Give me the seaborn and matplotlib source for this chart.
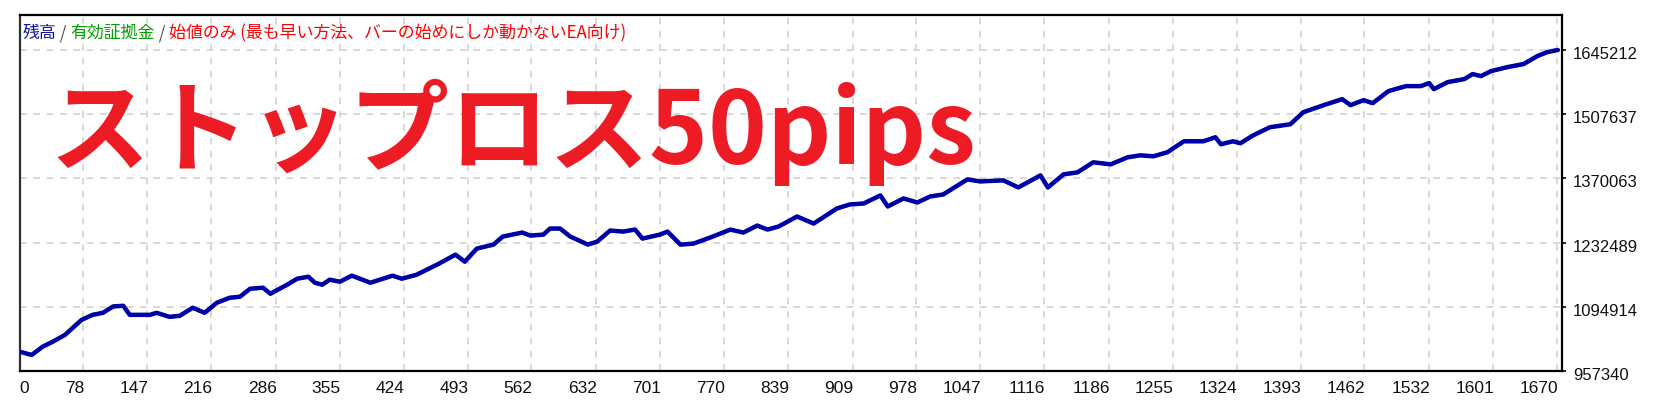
import matplotlib
matplotlib.use("Agg")
import matplotlib.pyplot as plt
import matplotlib.transforms as mtransforms
import seaborn as sns
import pandas as pd

# bar index of each sampled point on the balance curve
bars = [9, 22, 34, 45, 58, 76, 88, 99, 110, 121, 128, 150, 157, 171, 182, 196, 209,
        222, 236, 247, 258, 272, 280, 298, 309, 321, 328, 336, 344, 355, 368, 388,
        412, 422, 438, 460, 480, 490, 503, 521, 531, 552, 561, 575, 582, 593, 604,
        623, 633, 647, 661, 674, 682, 701, 709, 723, 737, 755, 777, 791, 806, 817,
        829, 849, 867, 892, 906, 921, 939, 947, 964, 979, 993, 1007, 1033, 1047,
        1072, 1088, 1112, 1120, 1137, 1152, 1169, 1188, 1206, 1220, 1234, 1249,
        1267, 1288, 1301, 1307, 1320, 1328, 1342, 1360, 1382, 1396, 1418, 1438,
        1447, 1461, 1471, 1488, 1507, 1523, 1532, 1537, 1552, 1570, 1579, 1588,
        1599, 1617, 1634, 1649, 1660, 1671]

balance = [998800, 991700, 1009600, 1020300, 1034700, 1067000, 1077700, 1082000,
           1095600, 1097100, 1077700, 1077700, 1082000, 1073400, 1075600, 1092800,
           1082000, 1103500, 1114300, 1116400, 1133600, 1135800, 1122900, 1142200,
           1155100, 1159400, 1146500, 1142200, 1153000, 1148700, 1161600, 1146500,
           1161600, 1155100, 1163700, 1185200, 1206700, 1191600, 1219600, 1228200,
           1245400, 1254000, 1247500, 1249700, 1262600, 1262600, 1245400, 1228200,
           1234600, 1258300, 1256100, 1260400, 1241100, 1249700, 1256100, 1228200,
           1230300, 1243200, 1260400, 1254000, 1269000, 1260400, 1266900, 1288400,
           1273300, 1305600, 1314200, 1316300, 1333500, 1309900, 1327100, 1318500,
           1331400, 1335700, 1367900, 1363600, 1365800, 1350700, 1376500, 1350700,
           1378700, 1383000, 1404500, 1400200, 1415200, 1419500, 1417400, 1426000,
           1449600, 1449600, 1458200, 1443200, 1449600, 1445300, 1462500, 1479700,
           1486100, 1511900, 1527000, 1539900, 1527000, 1537700, 1531300, 1557100,
           1567800, 1567800, 1574300, 1561400, 1576400, 1582900, 1593600, 1589300,
           1600100, 1608700, 1615100, 1632300, 1640900, 1645200]

x_ticks = [9, 78, 147, 216, 286, 355, 424, 493, 562, 632, 701, 770, 839, 909, 978,
           1047, 1116, 1186, 1255, 1324, 1393, 1462, 1532, 1601, 1670]
x_tick_labels = ["0"] + [str(t) for t in x_ticks[1:]]
y_ticks = [957340, 1094914, 1232489, 1370063, 1507637, 1645212]

legend_parts = [("残高", "#14149c"), (" / ", "#505050"), ("有効証拠金", "#00a000"),
                (" / ", "#505050"), ("始値のみ (最も早い方法、バーの始めにしか動かないEA向け)", "#ff0000")]
headline = "ストップロス50pips"

df = pd.DataFrame({"bar": bars, "balance": balance})

sns.set_style("white")
plt.rcParams["font.family"] = ["Noto Sans CJK JP", "DejaVu Sans"]

fig = plt.figure(figsize=(16.6, 4.13), dpi=100)
W, H = 1660, 413
ax = fig.add_axes([19.6 / W, (H - 371) / H, (1562 - 19.6) / W, (371 - 15) / H])

# grid
grid_kw = dict(color="#d2d2d2", lw=1.2, ls=(0, (4, 4)), zorder=0)
for t in x_ticks[1:]:
    ax.axvline(t, **grid_kw)
for t in y_ticks[1:]:
    ax.axhline(t, **grid_kw)

# equity (hidden under balance) and balance
sns.lineplot(data=df, x="bar", y="balance", ax=ax, color="#00c000", lw=2.6, zorder=2)
sns.lineplot(data=df, x="bar", y="balance", ax=ax, color="#0000a8", lw=3.2, zorder=3)

ax.set_xlim(9, 1675.5)
ax.set_ylim(957340, 1720200)
ax.set_xlabel("")
ax.set_ylabel("")

ax.set_xticks(x_ticks)
ax.set_xticklabels(x_tick_labels, family=["Liberation Sans Narrow", "Liberation Sans"],
                   fontsize=12.5, color="#111111")
ax.set_yticks(y_ticks)
ax.set_yticklabels([str(v) for v in y_ticks], family=["Liberation Sans"], fontsize=12,
                   color="#111111")
ax.yaxis.tick_right()
ax.tick_params(axis="both", direction="out", length=3, width=1.2, color="#000000")
ax.tick_params(axis="x", pad=4)
ax.tick_params(axis="y", pad=5)

xoff = mtransforms.ScaledTranslation(1 / 100, 0, fig.dpi_scale_trans)
for i, lab in enumerate(ax.get_xticklabels()):
    if i == 0:
        lab.set_ha("left")
    else:
        lab.set_ha("right")
        lab.set_transform(lab.get_transform() + xoff)
yoff = mtransforms.ScaledTranslation(0, -3 / 100, fig.dpi_scale_trans)
for lab in ax.get_yticklabels():
    lab.set_transform(lab.get_transform() + yoff)

for side in ["left", "right", "top", "bottom"]:
    ax.spines[side].set_visible(True)
    ax.spines[side].set_color("#000000")
    ax.spines[side].set_linewidth(1.6)
ax.spines["left"].set_color("#303030")

# multi-coloured legend line at the top
prev = ax.text(3.0 / 1542, 1 - 18 / 356, legend_parts[0][0], color=legend_parts[0][1],
               fontsize=12.2, transform=ax.transAxes, va="center", ha="left", zorder=5)
for text, color in legend_parts[1:]:
    prev = ax.annotate(text, xy=(1, 0.5), xycoords=prev, va="center", ha="left",
                       color=color, fontsize=12.2, zorder=5)

# big headline
ax.text(30 / 1542, (371 - 164) / 356, headline, transform=ax.transAxes,
        fontsize=72, fontweight="bold", color="#ed1c24", ha="left", va="baseline", zorder=6)

fig.savefig("out.png", dpi=100, facecolor="white")
